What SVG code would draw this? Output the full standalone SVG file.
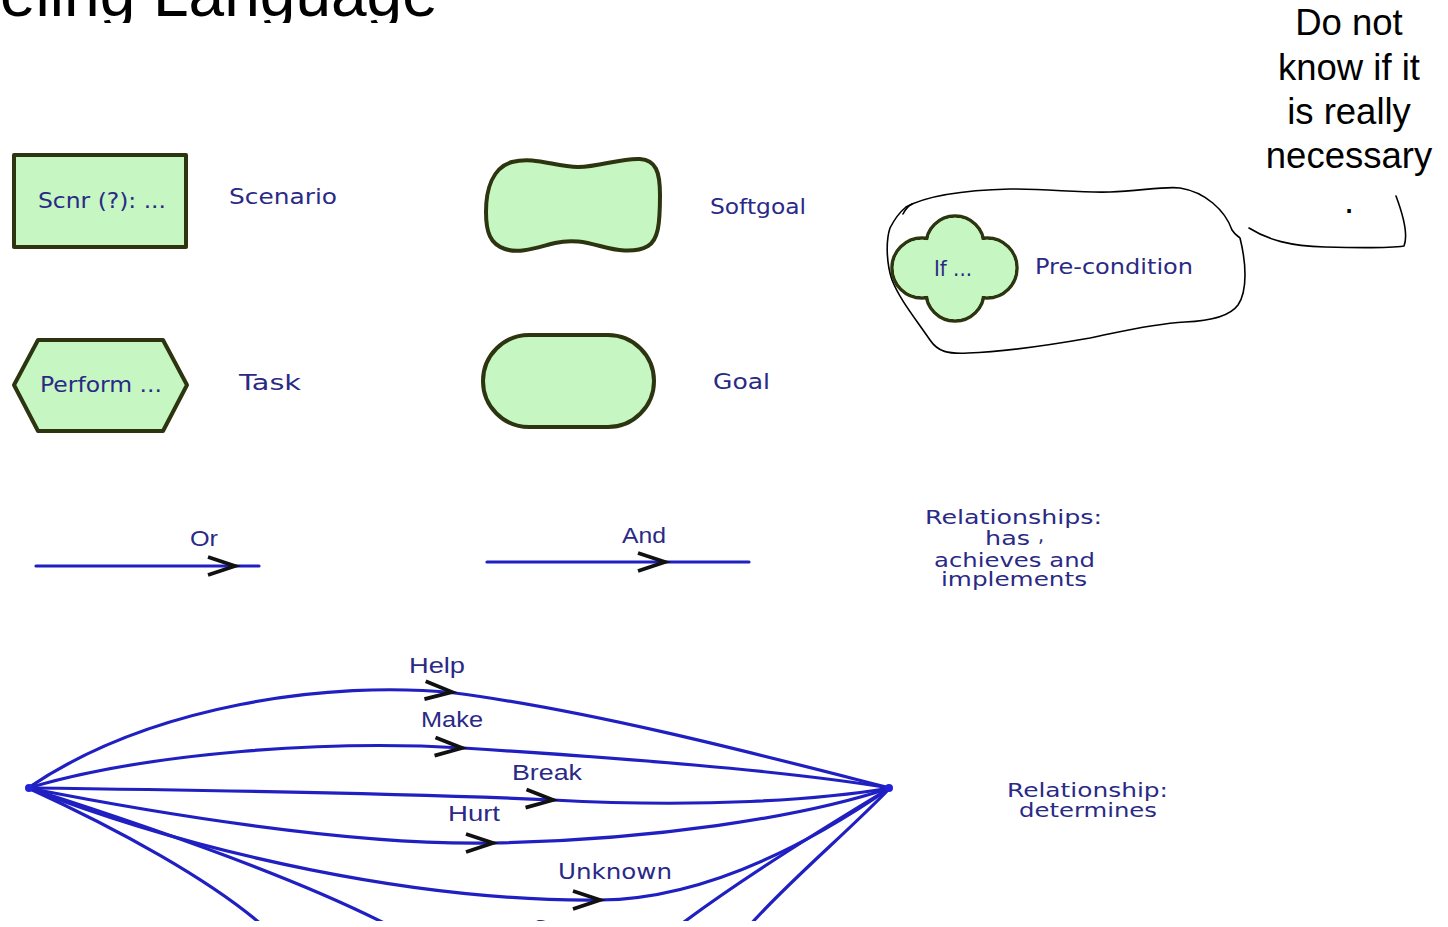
<svg xmlns="http://www.w3.org/2000/svg" width="1448" height="927" viewBox="0 0 1448 927">
  <style>
    .lbl { font-family: "DejaVu Sans", "Liberation Sans", sans-serif; font-size: 21px; fill: #2a2a86; }
    .cap { font-family: "DejaVu Sans", "Liberation Sans", sans-serif; font-size: 19px; fill: #2a2a86; }
    .cond { font-family: "Liberation Sans Narrow", "Liberation Sans", sans-serif; font-size: 22px; fill: #2a2a86; }
    .shape { fill: #c6f6c2; stroke: #2c3510; stroke-width: 4; stroke-linejoin: round; }
    .link { fill: none; stroke: #2020c2; stroke-width: 3.2; stroke-linecap: round; }
    .chev { fill: none; stroke: #111111; stroke-width: 3.8; stroke-linecap: butt; stroke-linejoin: miter; }
    .ink { fill: none; stroke: #000000; stroke-width: 1.6; stroke-linecap: round; stroke-linejoin: round; }
    .note { font-family: "Liberation Sans", Arial, sans-serif; font-size: 36.5px; fill: #000000; text-anchor: middle; }
  </style>
  <defs>
    <clipPath id="topclip"><rect x="0" y="0" width="1448" height="23"/></clipPath>
    <clipPath id="botclip"><rect x="0" y="0" width="1448" height="921"/></clipPath>
    <path id="chevron" d="M -27,-9 L 0,0 L -27,9"/>
  </defs>

  <rect x="0" y="0" width="1448" height="927" fill="#ffffff"/>

  <!-- slide title, cut off at the top edge -->
  <g id="title" clip-path="url(#topclip)">
    <text x="0" y="16" font-family="Liberation Sans, Arial, sans-serif" font-size="64" fill="#000000">eling Language</text>
  </g>

  <!-- handwritten remark -->
  <g id="note">
    <text class="note" x="1349" y="35">Do not</text>
    <text class="note" x="1349" y="80">know if it</text>
    <text class="note" x="1349" y="124">is really</text>
    <text class="note" x="1349" y="168">necessary</text>
    <text class="note" x="1349" y="213">.</text>
    <path class="ink" d="M 1249,228 C 1268,240 1290,246 1325,247 C 1360,248 1390,248 1404,246 C 1408,236 1405,220 1396,196"/>
  </g>

  <!-- hand-drawn loop round the pre-condition -->
  <g id="loop">
    <path class="ink" d="M 906,207 C 930,194 970,190 1010,189 C 1050,189 1080,193 1110,192 C 1140,191 1165,186 1180,188 C 1205,192 1225,210 1232,230 C 1236,236 1238,236 1240,238 C 1246,262 1248,290 1238,305 C 1230,316 1210,321 1185,322 C 1150,324 1120,332 1090,338 C 1050,345 1000,352 968,353 C 948,354 938,352 930,340 C 915,318 900,300 892,280 C 886,262 886,240 890,228 C 895,218 900,212 906,207 Z"/>
    <path class="ink" d="M 903,214 C 905,210 908,206 912,204"/>
  </g>

  <!-- Scenario -->
  <g id="scenario">
    <rect class="shape" x="14" y="155" width="172" height="92" stroke-width="4.5"/>
    <text class="lbl" x="38" y="208" textLength="128" lengthAdjust="spacingAndGlyphs">Scnr (?): ...</text>
    <text class="lbl" x="229" y="204" textLength="108" lengthAdjust="spacingAndGlyphs">Scenario</text>
  </g>

  <!-- Task -->
  <g id="task">
    <polygon class="shape" stroke-width="3" points="14,385 38,340 163,340 187,385 163,431 38,431"/>
    <text class="lbl" x="40" y="392" textLength="122" lengthAdjust="spacingAndGlyphs">Perform ...</text>
    <text class="lbl" x="239" y="390" textLength="62" lengthAdjust="spacingAndGlyphs">Task</text>
  </g>

  <!-- Softgoal -->
  <g id="softgoal">
    <path class="shape" d="M 512,162 C 535,156 555,167 578,167 C 600,167 620,158 640,159 C 656,160 660,172 660,195 C 660,225 658,240 648,246 C 634,254 615,250 600,246 C 585,242 572,239 555,243 C 538,247 520,254 505,249 C 490,244 486,232 486,212 C 486,190 492,168 512,162 Z"/>
    <text class="lbl" x="710" y="214" textLength="96" lengthAdjust="spacingAndGlyphs">Softgoal</text>
  </g>

  <!-- Goal -->
  <g id="goal">
    <rect class="shape" x="483" y="335" width="171" height="92" rx="46" ry="46"/>
    <text class="lbl" x="713" y="389" textLength="57" lengthAdjust="spacingAndGlyphs">Goal</text>
  </g>

  <!-- Pre-condition -->
  <g id="precondition">
    <g fill="#c6f6c2" stroke="#2c3510" stroke-width="3.5">
      <circle cx="955" cy="245" r="29"/>
      <circle cx="955" cy="292" r="29"/>
      <circle cx="922" cy="268" r="30"/>
      <circle cx="987" cy="268" r="30"/>
    </g>
    <g fill="#c6f6c2">
      <circle cx="955" cy="245" r="27.3"/>
      <circle cx="955" cy="292" r="27.3"/>
      <circle cx="922" cy="268" r="28.3"/>
      <circle cx="987" cy="268" r="28.3"/>
    </g>
    <text class="lbl" x="934" y="276" textLength="38" lengthAdjust="spacingAndGlyphs">If ...</text>
    <text class="lbl" x="1035" y="274" textLength="158" lengthAdjust="spacingAndGlyphs">Pre-condition</text>
  </g>

  <!-- relationship captions -->
  <g id="captions">
    <text class="cap" x="925" y="524" textLength="177" lengthAdjust="spacingAndGlyphs">Relationships:</text>
    <text class="cap" x="985" y="545" textLength="45" lengthAdjust="spacingAndGlyphs">has</text>
    <text class="cap" x="1038" y="542" font-size="9">,</text>
    <text class="cap" x="934" y="567" textLength="161" lengthAdjust="spacingAndGlyphs">achieves and</text>
    <text class="cap" x="941" y="586" textLength="146" lengthAdjust="spacingAndGlyphs">implements</text>
    <text class="cap" x="1007" y="797" textLength="161" lengthAdjust="spacingAndGlyphs">Relationship:</text>
    <text class="cap" x="1019" y="817" textLength="138" lengthAdjust="spacingAndGlyphs">determines</text>
  </g>

  <!-- connectors -->
  <g id="connectors">
    <!-- Or / And decompositions -->
    <line class="link" x1="36" y1="566" x2="259" y2="566"/>
    <use href="#chevron" class="chev" transform="translate(235,566)"/>
    <text class="cond" x="190" y="546" textLength="28" lengthAdjust="spacingAndGlyphs">Or</text>

    <line class="link" x1="487" y1="562" x2="749" y2="562"/>
    <use href="#chevron" class="chev" transform="translate(665,562)"/>
    <text class="cond" x="622" y="543" textLength="44" lengthAdjust="spacingAndGlyphs">And</text>

    <!-- contribution fan -->
    <g clip-path="url(#botclip)">
      <path class="link" d="M 28,788 C 150,705 330,680 455,693 C 600,712 780,760 890,788"/>
      <path class="link" d="M 28,788 C 150,752 330,740 463,748 C 620,758 780,770 890,788"/>
      <path class="link" d="M 28,788 C 200,790 400,793 553,800 C 700,808 820,800 890,788"/>
      <path class="link" d="M 28,788 C 150,812 350,846 493,843 C 650,840 800,818 890,788"/>
      <path class="link" d="M 28,788 C 200,855 420,902 600,900 C 700,899 800,850 890,788"/>
      <path class="link" d="M 28,788 C 160,830 300,880 388,925"/>
      <path class="link" d="M 28,788 C 120,830 210,880 262,925"/>
      <path class="link" d="M 890,788 C 820,830 740,880 680,925"/>
      <path class="link" d="M 890,788 C 850,830 790,880 750,925"/>
      <circle cx="29" cy="788" r="4" fill="#2222d8"/>
      <circle cx="889" cy="788" r="4" fill="#2222d8"/>

      <use href="#chevron" class="chev" transform="translate(452,692) rotate(4)"/>
      <use href="#chevron" class="chev" transform="translate(462,748) rotate(3)"/>
      <use href="#chevron" class="chev" transform="translate(553,800) rotate(3)"/>
      <use href="#chevron" class="chev" transform="translate(493,843) rotate(0)"/>
      <use href="#chevron" class="chev" transform="translate(600,900) rotate(0)"/>

      <text class="cond" x="409" y="673" textLength="56" lengthAdjust="spacingAndGlyphs">Help</text>
      <text class="cond" x="421" y="727" textLength="62" lengthAdjust="spacingAndGlyphs">Make</text>
      <text class="cond" x="512" y="780" textLength="70" lengthAdjust="spacingAndGlyphs">Break</text>
      <text class="cond" x="448" y="821" textLength="52" lengthAdjust="spacingAndGlyphs">Hurt</text>
      <text class="lbl" x="558" y="879" textLength="114" lengthAdjust="spacingAndGlyphs">Unknown</text>
      <text class="lbl" x="533" y="936" textLength="88" lengthAdjust="spacingAndGlyphs">Some +</text>
    </g>
  </g>
</svg>
